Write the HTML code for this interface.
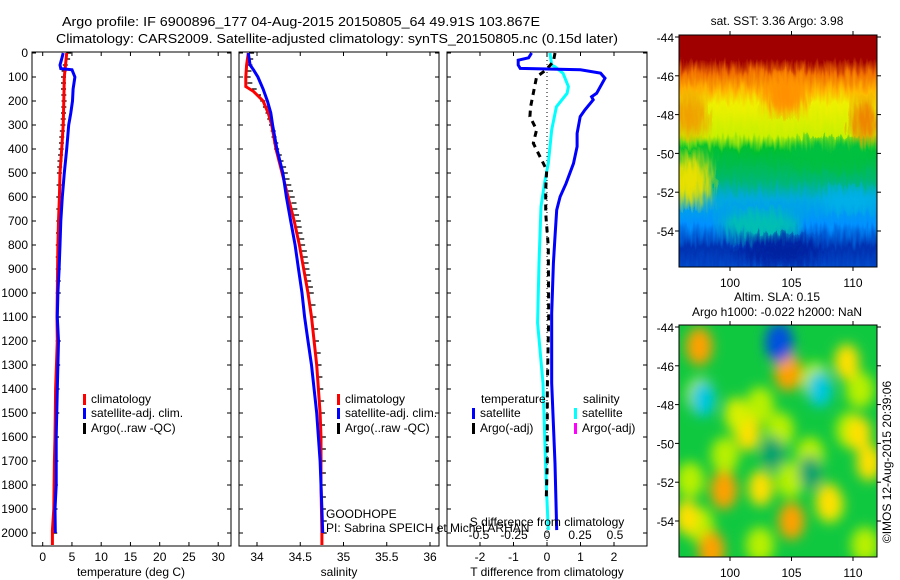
<!DOCTYPE html>
<html><head><meta charset="utf-8"><title>Argo profile</title>
<style>
html,body{margin:0;padding:0;background:#fff;}
svg{display:block;font-family:"Liberation Sans",sans-serif;}
text{fill:#000;}
</style></head>
<body>
<svg id="fig" width="900" height="580" viewBox="0 0 900 580" xmlns="http://www.w3.org/2000/svg">
<defs>
<filter id="rag" x="0" y="0" width="1" height="1">
<feTurbulence type="fractalNoise" baseFrequency="0.3 0.05" numOctaves="2" seed="3" result="n"/>
<feDisplacementMap in="SourceGraphic" in2="n" scale="16" xChannelSelector="R" yChannelSelector="G"/>
</filter>
<filter id="blur8"><feGaussianBlur stdDeviation="7"/></filter>
<filter id="blur6"><feGaussianBlur stdDeviation="6"/></filter>
<linearGradient id="sstgrad" x1="0" y1="0" x2="0" y2="1">
<stop offset="0" stop-color="#a00000"/><stop offset="0.13" stop-color="#a00000"/>
<stop offset="0.19" stop-color="#f07000"/><stop offset="0.25" stop-color="#ffb000"/>
<stop offset="0.31" stop-color="#eef000"/><stop offset="0.44" stop-color="#c8f000"/>
<stop offset="0.5" stop-color="#00c030"/><stop offset="0.62" stop-color="#00b870"/>
<stop offset="0.7" stop-color="#00a8e0"/><stop offset="0.8" stop-color="#0090ff"/>
<stop offset="0.9" stop-color="#0030b0"/><stop offset="1" stop-color="#0050d0"/>
</linearGradient>
<clipPath id="clipTop"><rect x="679" y="35" width="198" height="232"/></clipPath>
<clipPath id="clipBot"><rect x="679" y="325" width="198" height="232"/></clipPath>
</defs>
<text x="62" y="26" font-size="13" textLength="478" lengthAdjust="spacingAndGlyphs">Argo profile: IF 6900896_177 04-Aug-2015 20150805_64 49.91S 103.867E</text>
<text x="56" y="43" font-size="13" textLength="562" lengthAdjust="spacingAndGlyphs">Climatology: CARS2009. Satellite-adjusted climatology: synTS_20150805.nc (0.15d later)</text>
<g id="g1"></g>
<g id="g2"></g>
<g id="g3"></g>
<g id="gm"></g>
<text x="326" y="518" font-size="12">GOODHOPE</text>
<text x="326" y="532" font-size="12">PI: Sabrina SPEICH et Michel ARHAN</text>
</svg>
<script>
// ---- depth axis ----
const depthTicks = [0,100,200,300,400,500,600,700,800,900,1000,1100,1200,1300,1400,1500,1600,1700,1800,1900,2000];
// ---- temperature panel ----
const tempTicks = [0,5,10,15,20,25,30];
const climTD = [0,100,200,300,400,500,600,700,800,900,1000,1100,1200,1400,1600,1700,1900,1990,2050];
const climT  = [4.1,3.7,3.6,3.5,3.25,2.95,2.85,2.7,2.6,2.55,2.5,2.45,2.5,2.2,2.1,2.0,1.9,1.65,1.65];
const satTD = [0,20,50,65,70,100,150,200,250,300,400,500,600,700,800,900,1000,1100,1200,1400,1600,1800,1900,2000];
const satT  = [3.5,3.3,2.95,3.1,5.0,5.5,5.2,5.1,4.8,4.45,4.1,3.7,3.35,3.1,2.95,2.8,2.6,2.5,2.7,2.5,2.3,2.3,2.1,2.15];
const argoTD = [0,25,50,75,100,125,150,175,200,225,250,275,300,325,350,375,400,425,450,475,500,550,600,650,700,750,800,850,900,950,1000,1100,1200,1300,1400,1500,1600,1700,1800,1900,2000];
const argoT  = [4.2,4.0,3.6,3.4,3.3,3.3,3.3,3.35,3.4,3.35,3.3,3.25,3.2,3.1,3.0,2.95,2.9,2.8,2.7,2.65,2.6,2.55,2.5,2.5,2.5,2.45,2.4,2.4,2.4,2.4,2.4,2.4,2.4,2.3,2.2,2.15,2.1,2.0,1.9,1.85,1.8];
// ---- salinity panel ----
const salTicks = [34,34.5,35,35.5,36];
const climSD = [0,50,100,140,160,200,250,300,400,500,600,700,800,900,1000,1100,1200,1300,1400,1500,1600,1800,2000,2050];
const climS  = [33.90,33.88,33.87,33.87,33.96,34.07,34.13,34.17,34.22,34.29,34.36,34.43,34.49,34.54,34.59,34.63,34.66,34.69,34.71,34.73,34.74,34.74,34.75,34.75];
const satSD = [0,50,70,100,150,200,250,300,400,500,600,700,800,900,1000,1100,1200,1300,1400,1500,1600,1700,1800,1900,2000];
const satS  = [33.90,33.92,33.96,34.01,34.07,34.12,34.16,34.18,34.23,34.30,34.34,34.39,34.44,34.48,34.52,34.55,34.59,34.63,34.66,34.69,34.71,34.73,34.74,34.75,34.76];
const argoSD = [0,25,50,75,100,125,150,175,200,225,250,275,300,325,350,375,400,425,450,475,500,525,550,575,600,625,650,675,700,725,750,775,800,825,850,875,900,925,950,975,1000,1050,1100,1150,1200,1250,1300,1350,1400,1450,1500,1550,1600,1650,1700,1750,1800,1850,1900,1950,2000];
const argoS  = [33.92,33.91,33.90,33.89,33.88,33.90,33.95,34.00,34.05,34.08,34.11,34.13,34.15,34.17,34.18,34.20,34.21,34.24,34.26,34.29,34.31,34.33,34.35,34.37,34.39,34.41,34.42,34.44,34.46,34.47,34.48,34.50,34.51,34.53,34.54,34.55,34.56,34.57,34.58,34.60,34.61,34.63,34.64,34.66,34.67,34.69,34.70,34.71,34.72,34.73,34.74,34.74,34.75,34.75,34.75,34.75,34.75,34.75,34.75,34.76,34.76];
// ---- difference panel ----
const tdiffTicks = [-2,-1,0,1,2];
const sdiffTicks = [-0.5,-0.25,0,0.25,0.5];
const sdiffLabels = ["-0.5","-0.25","0","0.25","0.5"];
const satDTD = [0,20,30,50,64,70,84,105,168,182,195,237,265,335,390,460,543,599,654,765,876,1084,1376,1710,1988];
const satDT  = [-0.46,-0.55,-0.86,-0.86,-0.8,1.0,1.6,1.73,1.48,1.33,1.38,1.13,0.99,0.9,0.9,0.79,0.57,0.39,0.29,0.24,0.19,0.14,0.14,0.24,0.29];
const satDSD = [0,50,57,85,140,168,224,320,460,530,640,876,1125,1376,1780,1988];
const satDS  = [0.022,0.035,0.06,0.12,0.16,0.15,0.07,0.035,0.01,-0.015,-0.045,-0.06,-0.07,-0.03,-0.007,0.01];
const argoDTD = [0,36,71,99,168,224,265,320,376,432,488,571,668,807,1100,1400,1700,1850];
const argoDT  = [0.24,0.19,-0.03,-0.31,-0.41,-0.49,-0.51,-0.31,-0.41,-0.21,-0.01,-0.04,-0.04,0.04,0.05,0.01,0.01,-0.02];
// ---- maps ----
const latTicks = [-44,-46,-48,-50,-52,-54];
const lonTicks = [100,105,110];
const slaLon = [97.5,104.7,109.5,104.0,107.3,97.8,99.5,108.0,98.5,105.0,102.5,101.5,110.5,96.5,103.5,106.5,100.5,111.3];
const slaLat = [-45.0,-46.3,-45.8,-44.8,-47.2,-47.7,-52.4,-53.0,-55.5,-54.0,-52.3,-49.5,-49.5,-53.8,-50.5,-51.5,-48.5,-51.0];
const slaVal = [0.8,0.9,0.6,-1.0,-0.6,-0.6,0.85,0.7,0.8,0.75,0.6,0.5,0.5,0.5,-0.3,-0.3,0.4,0.6];

const NS="http://www.w3.org/2000/svg";
function el(tag, attrs, parent, txt){const e=document.createElementNS(NS,tag);for(const k in attrs)e.setAttribute(k,attrs[k]);if(txt!==undefined)e.textContent=txt;parent.appendChild(e);return e;}
const yD = d => 53 + d*0.24;
const xT = t => 42.7 + t*5.85;
const xS = s => 257 + (s-34)*86.5;
const xDT = d => 547 + d*33.5;
const xDS = s => 547 + s*134;
const TOP=52, BOT=546;

function frame(g, x0, x1, name){
  const r=el('rect',{x:x0,y:TOP,width:x1-x0,height:BOT-TOP,fill:'none',stroke:'#000','stroke-width':1},g);
  
  
  depthTicks.forEach(d=>{
    const y=yD(d);
    el('line',{x1:x0,x2:x0+4,y1:y,y2:y,stroke:'#000'},g);
    el('line',{x1:x1-4,x2:x1,y1:y,y2:y,stroke:'#000'},g);
  });
}
function xticks(g, vals, fx, labels, ly, name){
  vals.forEach((v,i)=>{
    const x=fx(v);
    el('line',{x1:x,x2:x,y1:TOP,y2:TOP+4,stroke:'#000'},g);
    el('line',{x1:x,x2:x,y1:BOT-4,y2:BOT,stroke:'#000'},g);
    if(labels){
      const t=el('text',{x:x,y:ly,'font-size':12,'text-anchor':'middle'},g,labels[i]);
      
      
    }
  });
}
function line(g, xs, ds, fx, color, w, name, dash){
  const pts=xs.map((v,i)=>fx(v).toFixed(1)+','+yD(ds[i]).toFixed(1)).join(' ');
  const a={points:pts,fill:'none',stroke:color,'stroke-width':w,'stroke-linejoin':'miter'};
  if(dash)a['stroke-dasharray']=dash;
  const p=el('polyline',a,g);
  
  
}
function argoTicks(g, xs, ds, fx, name){
  xs.forEach((v,i)=>{
    const x=fx(v), y=yD(ds[i]);
    const l=el('line',{x1:x-1,x2:x+4,y1:y,y2:y,stroke:'#000','stroke-width':1.3},g);
    
    
  });
}
function legend(g, x, y, color, label){
  el('rect',{x:x-2,y:y-9,width:3,height:11,fill:color},g);
  const t=el('text',{x:x+6,y:y,'font-size':12},g,label);
  
  
}

// Panel 1
const g1=document.getElementById('g1');
frame(g1,32,231,'temperature');
xticks(g1,tempTicks,xT,tempTicks.map(String),561,'temperature');
depthTicks.forEach(d=>{
  const t=el('text',{x:28,y:yD(d)+4,'font-size':12,'text-anchor':'end'},g1,String(d));
  
  
});
el('text',{x:131,y:576,'font-size':12,'text-anchor':'middle',},g1,'temperature (deg C)');
argoTicks(g1,argoT,argoTD,xT,'argo-temperature-tick');
line(g1,climT,climTD,xT,'#ff0000',3,'climatology-temperature-line');
line(g1,satT,satTD,xT,'#0000ff',3,'satellite-temperature-line');
legend(g1,85,403,'#ff0000','climatology');
legend(g1,85,417,'#0000ff','satellite-adj. clim.');
legend(g1,85,432,'#000','Argo(..raw -QC)');

// Panel 2
const g2=document.getElementById('g2');
frame(g2,239,439,'salinity');
xticks(g2,salTicks,xS,salTicks.map(String),561,'salinity');
el('text',{x:339,y:576,'font-size':12,'text-anchor':'middle',},g2,'salinity');
argoTicks(g2,argoS,argoSD,xS,'argo-salinity-tick');
line(g2,climS,climSD,xS,'#ff0000',3,'climatology-salinity-line');
line(g2,satS,satSD,xS,'#0000ff',3,'satellite-salinity-line');
legend(g2,339,403,'#ff0000','climatology');
legend(g2,339,417,'#0000ff','satellite-adj. clim.');
legend(g2,339,432,'#000','Argo(..raw -QC)');

// Panel 3
const g3=document.getElementById('g3');
el('rect',{x:447,y:TOP,width:200,height:BOT-TOP,fill:'#fff',stroke:'#000'},g3);
frame(g3,447,647,'difference');
xticks(g3,tdiffTicks,xDT,tdiffTicks.map(String),561,'t-difference');
el('text',{x:547,y:576,'font-size':12,'text-anchor':'middle',},g3,'T difference from climatology');
el('line',{x1:547,x2:547,y1:TOP,y2:BOT,stroke:'#000','stroke-width':1,'stroke-dasharray':'1,3',},g3);
line(g3,satDS,satDSD,xDS,'#00ffff',3,'satellite-salinity-difference-line');
line(g3,argoDT,argoDTD,xDT,'#000',3,'argo-temperature-difference-line','6,5');
line(g3,satDT,satDTD,xDT,'#0000ff',3,'satellite-temperature-difference-line');
el('text',{x:481,y:403,'font-size':12,},g3,'temperature');
el('text',{x:583,y:403,'font-size':12,},g3,'salinity');
legend(g3,474,417,'#0000ff','satellite');
legend(g3,474,432,'#000','Argo(-adj)');
legend(g3,576,417,'#00ffff','satellite');
legend(g3,576,432,'#ff00ff','Argo(-adj)');
el('text',{x:547,y:526,'font-size':12,'text-anchor':'middle',},g3,'S difference from climatology');
const sdiffLabelX=[479,514,547,580,615];
sdiffTicks.forEach((v,i)=>{
  const t=el('text',{x:sdiffLabelX[i],y:539,'font-size':12,'text-anchor':'middle'},g3,sdiffLabels[i]);
  
  
});

// Maps
const gm=document.getElementById('gm');
const lonX = lon => 730 + (lon-100)*12.3;
function mapAxes(top, y44, name){
  el('rect',{x:679,y:top,width:198,height:232,fill:'none',stroke:'#000'},gm);
  latTicks.forEach(l=>{
    const y=y44+(-44-l)*19.4;
    el('line',{x1:675,x2:679,y1:y,y2:y,stroke:'#000'},gm);
    el('line',{x1:877,x2:881,y1:y,y2:y,stroke:'#000'},gm);
    const t=el('text',{x:674,y:y+5,'font-size':12,'text-anchor':'end'},gm,String(l));
    
    
  });
  lonTicks.forEach(l=>{
    const x=lonX(l);
    el('line',{x1:x,x2:x,y1:top-4,y2:top,stroke:'#000'},gm);
    el('line',{x1:x,x2:x,y1:top+232,y2:top+236,stroke:'#000'},gm);
    const t=el('text',{x:x,y:top+252,'font-size':12,'text-anchor':'middle'},gm,String(l));
    
    
  });
}
// SST map
const gt=el('g',{'clip-path':'url(#clipTop)'},gm);


const gti=el('g',{filter:'url(#rag)'},gt);
el('rect',{x:670,y:28,width:215,height:245,fill:'url(#sstgrad)'},gti);
el('ellipse',{cx:690,cy:180,rx:22,ry:25,fill:'#e8e000',filter:'url(#blur8)'},gti);
el('ellipse',{cx:690,cy:115,rx:18,ry:22,fill:'#f0a000',filter:'url(#blur8)'},gti);
el('ellipse',{cx:785,cy:95,rx:22,ry:20,fill:'#ff9000',filter:'url(#blur8)'},gti);
el('ellipse',{cx:865,cy:120,rx:14,ry:22,fill:'#f08000',filter:'url(#blur8)'},gti);
el('ellipse',{cx:830,cy:155,rx:45,ry:15,fill:'#00c040',filter:'url(#blur8)'},gti);
el('ellipse',{cx:760,cy:225,rx:40,ry:15,fill:'#00c0b0',filter:'url(#blur8)'},gti);
el('ellipse',{cx:780,cy:250,rx:40,ry:14,fill:'#0020a0',filter:'url(#blur8)'},gti);
el('ellipse',{cx:850,cy:200,rx:30,ry:12,fill:'#00b0e8',filter:'url(#blur8)'},gti);
mapAxes(35,37,'sst-map');
el('text',{x:777,y:25,'font-size':12,'text-anchor':'middle',},gm,'sat. SST: 3.36 Argo: 3.98');
// SLA map
const gb=el('g',{'clip-path':'url(#clipBot)'},gm);


el('rect',{x:679,y:325,width:198,height:232,fill:'#10c840'},gb);
const gbi=el('g',{filter:'url(#blur6)'},gb);
[[700,395],[760,405],[815,380],[725,455],[790,480],[850,430],[700,525],[760,545],[830,505],[865,545],[745,425],[810,455],[690,480],[860,390],[780,430]].forEach(p=>{
  el('ellipse',{cx:p[0],cy:p[1],rx:14,ry:18,fill:'#b8f000'},gbi);
});
slaVal.forEach((v,i)=>{
  const cx=lonX(slaLon[i]), cy=327+(-44-slaLat[i])*19.4;
  const col = v>0.7 ? '#ffa000' : v>0.45 ? '#ffe000' : v>0 ? '#d8f000' : v>-0.5 ? '#00a070' : v>-0.8 ? '#00c8e0' : '#0050e0';
  const e=el('ellipse',{cx:cx,cy:cy,rx:10+Math.abs(v)*4,ry:15+Math.abs(v)*5,fill:col},gbi);
  
  
});
mapAxes(325,327,'sla-map');
el('text',{x:777,y:301,'font-size':12,'text-anchor':'middle',},gm,'Altim. SLA: 0.15');
el('text',{x:777,y:316,'font-size':12,'text-anchor':'middle',},gm,'Argo h1000: -0.022 h2000: NaN');
el('text',{x:0,y:0,'font-size':12,'text-anchor':'middle',transform:'translate(891,462) rotate(-90)',},gm,'©IMOS 12-Aug-2015 20:39:06');
</script>
</body></html>
